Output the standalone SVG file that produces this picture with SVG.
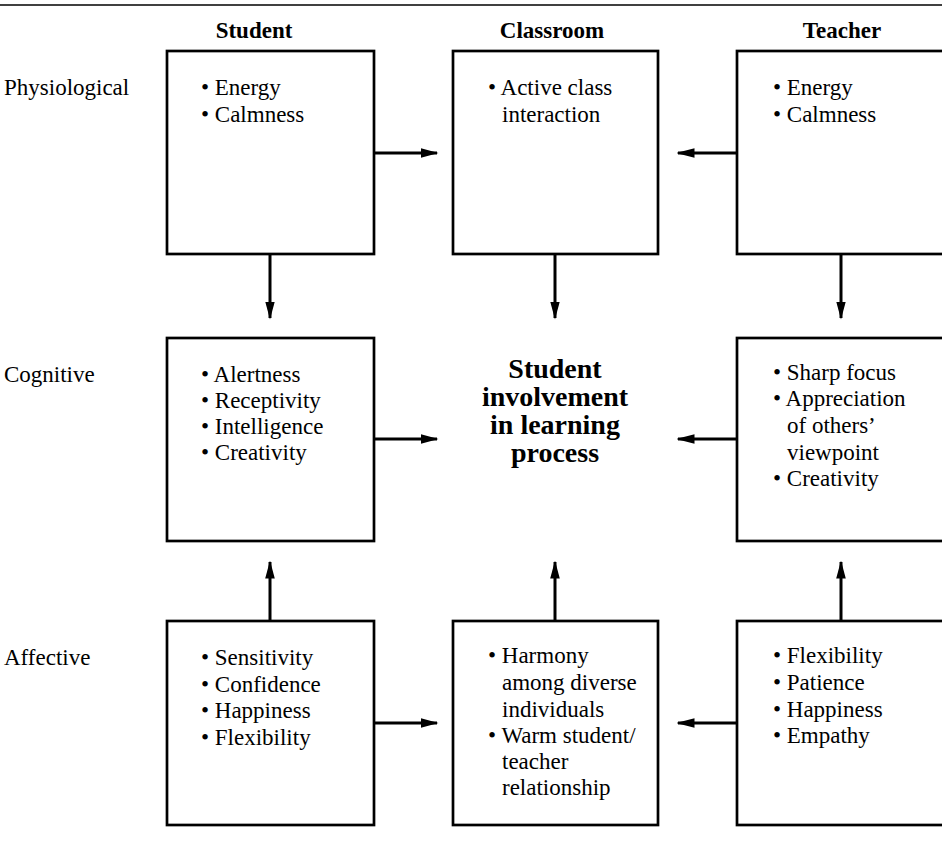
<svg xmlns="http://www.w3.org/2000/svg" width="942" height="848" viewBox="0 0 942 848">
<style>
.box{fill:#fff;stroke:#000;stroke-width:2.7}
.t{font-family:"Liberation Serif","Times New Roman",serif;font-size:23px;fill:#000}
.h{font-family:"Liberation Serif","Times New Roman",serif;font-size:23px;font-weight:bold;fill:#000;text-anchor:middle}
.c{font-family:"Liberation Serif","Times New Roman",serif;font-size:28px;font-weight:bold;fill:#000;text-anchor:middle}
.ln{stroke:#000;stroke-width:3;fill:none;marker-end:url(#ah)}
</style>
<defs>
<marker id="ah" markerWidth="6" markerHeight="3.2" refX="5.5" refY="1.6" orient="auto" markerUnits="strokeWidth">
<path d="M0,0 L6,1.6 L0,3.2 Z" fill="#000"/>
</marker>
</defs>
<line x1="0" y1="5" x2="942" y2="5" stroke="#000" stroke-width="1.5"/>
<g id="headers">
<text class="h" x="254" y="38">Student</text>
<text class="h" x="552" y="38">Classroom</text>
<text class="h" x="842" y="38">Teacher</text>
</g>
<g id="rowlabels">
<text class="t" x="4" y="95">Physiological</text>
<text class="t" x="4" y="382">Cognitive</text>
<text class="t" x="4" y="665">Affective</text>
</g>
<g id="student-physiological">
<rect class="box" x="167" y="51" width="207" height="203"/>
<text class="t" x="201" y="95">• Energy</text>
<text class="t" x="201" y="122">• Calmness</text>
</g>
<g id="classroom-physiological">
<rect class="box" x="453" y="51" width="205" height="203"/>
<text class="t" x="488" y="95">• Active class</text>
<text class="t" x="502" y="122">interaction</text>
</g>
<g id="teacher-physiological">
<rect class="box" x="737" y="51" width="212" height="203"/>
<text class="t" x="773" y="95">• Energy</text>
<text class="t" x="773" y="122">• Calmness</text>
</g>
<g id="student-cognitive">
<rect class="box" x="167" y="338" width="207" height="203"/>
<text class="t" x="201" y="382">• Alertness</text>
<text class="t" x="201" y="408">• Receptivity</text>
<text class="t" x="201" y="434">• Intelligence</text>
<text class="t" x="201" y="460">• Creativity</text>
</g>
<g id="center">
<text class="c" x="555" y="378">Student</text>
<text class="c" x="555" y="406">involvement</text>
<text class="c" x="555" y="434">in learning</text>
<text class="c" x="555" y="462">process</text>
</g>
<g id="teacher-cognitive">
<rect class="box" x="737" y="338" width="212" height="203"/>
<text class="t" x="773" y="380">• Sharp focus</text>
<text class="t" x="773" y="406">• Appreciation</text>
<text class="t" x="787" y="433">of others’</text>
<text class="t" x="787" y="460">viewpoint</text>
<text class="t" x="773" y="486">• Creativity</text>
</g>
<g id="student-affective">
<rect class="box" x="167" y="621" width="207" height="204"/>
<text class="t" x="201" y="665">• Sensitivity</text>
<text class="t" x="201" y="692">• Confidence</text>
<text class="t" x="201" y="718">• Happiness</text>
<text class="t" x="201" y="745">• Flexibility</text>
</g>
<g id="classroom-affective">
<rect class="box" x="453" y="621" width="205" height="204"/>
<text class="t" x="488" y="663">• Harmony</text>
<text class="t" x="502" y="690">among diverse</text>
<text class="t" x="502" y="717">individuals</text>
<text class="t" x="488" y="743">• Warm student/</text>
<text class="t" x="502" y="769">teacher</text>
<text class="t" x="502" y="795">relationship</text>
</g>
<g id="teacher-affective">
<rect class="box" x="737" y="621" width="212" height="204"/>
<text class="t" x="773" y="663">• Flexibility</text>
<text class="t" x="773" y="690">• Patience</text>
<text class="t" x="773" y="717">• Happiness</text>
<text class="t" x="773" y="743">• Empathy</text>
</g>
<g id="connectors">
<line class="ln" x1="374" y1="153" x2="437" y2="153"/>
<line class="ln" x1="737" y1="153" x2="678" y2="153"/>
<line class="ln" x1="270" y1="254" x2="270" y2="318"/>
<line class="ln" x1="555" y1="254" x2="555" y2="318"/>
<line class="ln" x1="841" y1="254" x2="841" y2="318"/>
<line class="ln" x1="374" y1="439" x2="437" y2="439"/>
<line class="ln" x1="737" y1="439" x2="678" y2="439"/>
<line class="ln" x1="270" y1="621" x2="270" y2="562"/>
<line class="ln" x1="555" y1="621" x2="555" y2="562"/>
<line class="ln" x1="841" y1="621" x2="841" y2="562"/>
<line class="ln" x1="374" y1="723" x2="437" y2="723"/>
<line class="ln" x1="737" y1="723" x2="678" y2="723"/>
</g>
</svg>
